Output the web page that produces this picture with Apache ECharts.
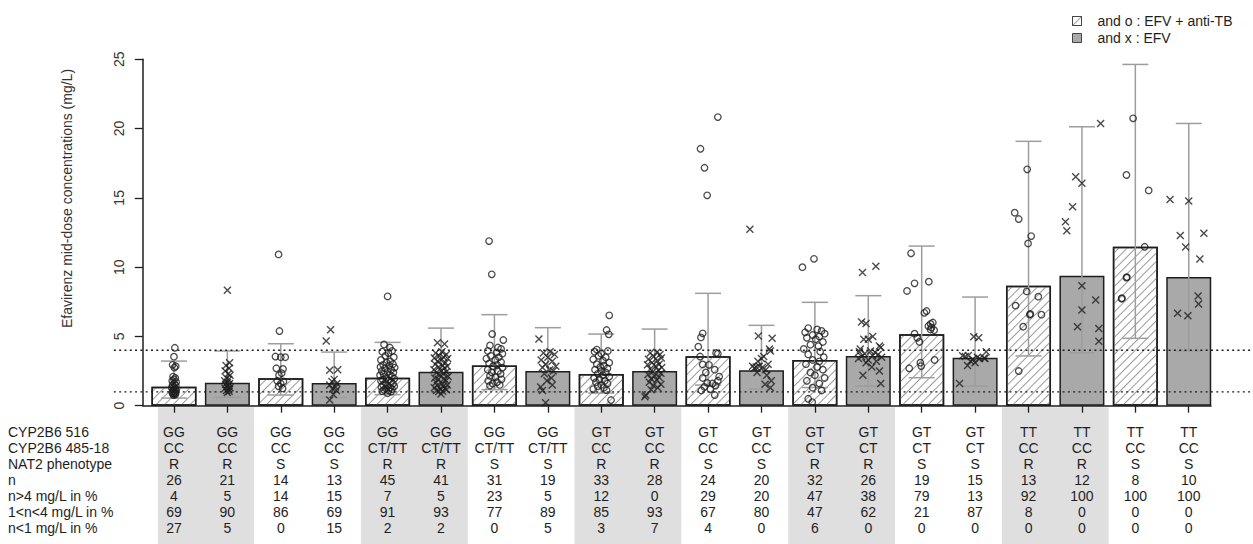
<!DOCTYPE html>
<html>
<head>
<meta charset="utf-8">
<script src="https://cdn.jsdelivr.net/npm/echarts@6/dist/echarts.min.js"></script>
<style>
  html, body { margin: 0; padding: 0; background: #fff; }
  #chart { width: 1253px; height: 544px; }
</style>
</head>
<body>
<div id="chart"></div>
<script>
// ---- table rows under each bar ----
const snp516   = ['GG','GG','GG','GG','GG','GG','GG','GG','GT','GT','GT','GT','GT','GT','GT','GT','TT','TT','TT','TT'];
const snp485   = ['CC','CC','CC','CC','CT/TT','CT/TT','CT/TT','CT/TT','CC','CC','CC','CC','CT','CT','CT','CT','CC','CC','CC','CC'];
const nat2     = ['R','R','S','S','R','R','S','S','R','R','S','S','R','R','S','S','R','R','S','S'];
const nCount   = [26,21,14,13,45,41,31,19,33,28,24,20,32,26,19,15,13,12,8,10];
const pctAbove4 = [4,5,14,15,7,5,23,5,12,0,29,20,47,38,79,13,92,100,100,100];
const pctMid    = [69,90,86,69,91,93,77,89,85,93,67,80,47,62,21,87,8,0,0,0];
const pctBelow1 = [27,5,0,15,2,2,0,5,3,7,4,0,6,0,0,0,0,0,0,0];
const rowNames = ['CYP2B6 516','CYP2B6 485-18','NAT2 phenotype','n','n>4 mg/L in %','1<n<4 mg/L in %','n<1 mg/L in %'];

// ---- bar heights and whiskers (mg/L) ----
const barHeights = [1.37,1.66,1.98,1.64,2.02,2.45,2.91,2.50,2.29,2.50,3.56,2.55,3.30,3.59,5.15,3.46,8.66,9.38,11.47,9.29];
const errUpper   = [3.22,3.95,4.47,3.87,4.57,5.60,6.57,5.63,5.17,5.53,8.11,5.80,7.46,7.94,11.52,7.84,19.08,20.13,24.63,20.37];
const errLower   = [0.55,0.60,0.77,0.60,0.80,0.96,1.16,1.00,0.91,1.02,1.49,1.20,1.31,1.42,2.02,1.42,3.59,3.82,4.86,3.95];

// reference levels (mg/L)
const thresholds = [1, 4];

// first bar of each shaded table pair
const shadedPairs = [0, 4, 8, 12, 16];

// ---- individual concentrations: [jitter (bar widths), mg/L] ----
const pts01 = [[0.02,4.18],[0,3.54],[-0.03,2.95],[0.04,2.85],[0.01,2.75],[-0.02,2.1],[0.03,2.0],[0,1.9],[-0.04,1.8],[0.05,1.7],[0.01,1.6],[-0.03,1.5],[0.04,1.45],[0,1.35],[-0.05,1.3],[0.03,1.2],[-0.01,1.15],[0.05,1.1],[-0.03,1.05],[0.02,0.98],[-0.04,0.95],[0.04,0.92],[0,0.88],[-0.02,0.85],[0.03,0.8],[-0.01,0.76]];
const pts02 = [[0,8.33],[0.05,3.1],[-0.03,2.9],[0.04,2.7],[-0.05,2.5],[0.02,2.3],[0.06,2.2],[-0.02,2.0],[0.03,1.9],[-0.06,1.8],[0,1.7],[0.05,1.6],[-0.04,1.55],[0.02,1.5],[-0.01,1.4],[0.06,1.3],[-0.05,1.25],[0.03,1.2],[-0.02,1.1],[0.04,1.05],[0,0.95]];
const pts03 = [[-0.05,10.92],[-0.03,5.39],[-0.12,3.55],[0,3.5],[0.1,3.5],[-0.1,2.7],[0.05,2.65],[0.02,2.35],[-0.04,2.2],[-0.08,1.8],[0.06,1.75],[0,1.6],[-0.05,1.4],[0.04,1.25]];
const pts04 = [[-0.18,4.67],[-0.08,5.48],[-0.1,2.55],[0.08,2.6],[0,1.9],[-0.05,1.75],[0.06,1.6],[-0.1,1.5],[0.03,1.35],[-0.04,1.2],[0.05,1.1],[-0.02,0.8],[-0.1,0.41]];
const pts05 = [[0,7.89],[-0.08,4.42],[0.05,4.2],[0.1,3.95],[-0.12,3.9],[0.02,3.8],[-0.05,3.6],[0.14,3.5],[-0.15,3.3],[0.06,3.2],[-0.02,3.1],[0.12,3.0],[-0.1,2.95],[0.04,2.9],[-0.16,2.8],[0.16,2.75],[-0.06,2.7],[0.08,2.6],[-0.13,2.5],[0,2.45],[0.13,2.4],[-0.09,2.3],[0.05,2.25],[-0.17,2.2],[0.1,2.1],[-0.03,2.0],[0.15,1.95],[-0.11,1.9],[0.03,1.85],[-0.15,1.8],[0.08,1.7],[-0.05,1.65],[0.12,1.6],[-0.1,1.5],[0,1.45],[0.15,1.4],[-0.14,1.35],[0.06,1.3],[-0.04,1.25],[0.1,1.2],[-0.08,1.15],[0.02,1.1],[-0.12,1.05],[0.08,1.02],[0,0.9]];
const pts06 = [[-0.08,4.55],[0.08,4.45],[0.02,3.9],[-0.12,3.8],[0.12,3.7],[-0.04,3.6],[0.06,3.5],[-0.15,3.45],[0.15,3.4],[0,3.3],[-0.08,3.2],[0.1,3.1],[-0.13,3.0],[0.04,2.9],[0.14,2.85],[-0.05,2.8],[0.08,2.7],[-0.16,2.6],[0,2.5],[0.12,2.45],[-0.1,2.4],[0.05,2.3],[-0.03,2.2],[0.16,2.1],[-0.14,2.0],[0.07,1.95],[-0.06,1.9],[0.11,1.8],[-0.11,1.7],[0.02,1.6],[0.14,1.5],[-0.08,1.45],[0.05,1.4],[-0.15,1.3],[0.09,1.25],[-0.02,1.2],[0.12,1.15],[-0.1,1.1],[0.04,1.05],[-0.05,1.02],[0,0.85]];
const pts07 = [[-0.12,11.88],[-0.06,9.48],[-0.05,5.17],[0.2,4.74],[-0.1,4.35],[0.08,4.2],[0.15,4.1],[-0.15,3.95],[0.05,3.85],[0.18,3.75],[-0.08,3.6],[0.1,3.5],[-0.18,3.4],[0.02,3.3],[0.15,3.15],[-0.12,3.05],[0.06,2.95],[-0.03,2.85],[0.18,2.75],[-0.15,2.6],[0.08,2.5],[-0.06,2.4],[0.14,2.3],[-0.1,2.15],[0.02,2.05],[0.16,1.9],[-0.14,1.8],[0.06,1.7],[-0.04,1.6],[0.12,1.5],[-0.1,1.45]];
const pts08 = [[-0.2,4.81],[0.05,3.9],[-0.1,3.8],[0.15,3.7],[0,3.5],[-0.15,3.3],[0.1,3.2],[-0.05,3.0],[0.18,2.85],[-0.12,2.75],[0.04,2.6],[0.12,2.5],[-0.08,2.3],[0.08,2.0],[-0.02,1.8],[0.1,1.5],[-0.16,1.35],[-0.12,1.1],[-0.05,0.22]];
const pts09 = [[0.18,6.52],[0.12,5.46],[0.17,5.15],[-0.1,4.05],[0.15,3.95],[-0.15,3.9],[0,3.75],[-0.06,3.6],[0.1,3.5],[-0.18,3.35],[0.04,3.25],[0.18,3.1],[-0.1,3.0],[0.06,2.9],[-0.02,2.8],[0.14,2.7],[-0.14,2.6],[0,2.5],[0.1,2.4],[-0.08,2.3],[0.04,2.2],[0.18,2.1],[-0.16,2.0],[-0.04,1.9],[0.08,1.8],[-0.12,1.7],[0.14,1.6],[0,1.5],[-0.08,1.4],[0.06,1.3],[-0.18,1.2],[0.12,1.12],[0.22,0.41]];
const pts10 = [[0.05,3.85],[-0.1,3.8],[0.12,3.7],[-0.02,3.55],[0.15,3.45],[-0.14,3.35],[0.06,3.25],[-0.06,3.1],[0.1,3.0],[-0.16,2.95],[0.02,2.85],[0.16,2.75],[-0.1,2.65],[0.08,2.55],[-0.04,2.45],[0.14,2.35],[-0.15,2.25],[0,2.15],[0.1,2.05],[-0.08,1.95],[0.05,1.85],[-0.12,1.7],[0.14,1.55],[-0.03,1.45],[0.07,1.3],[-0.08,1.15],[-0.2,0.77],[-0.22,0.65]];
const pts11 = [[0.22,20.83],[-0.17,18.54],[-0.08,17.17],[-0.02,15.18],[-0.12,5.22],[-0.16,4.93],[-0.22,4.26],[-0.18,3.55],[0.18,3.8],[0.22,3.75],[-0.12,2.98],[0.02,2.95],[0.15,2.6],[-0.05,2.4],[0.25,2.1],[-0.12,2.0],[0.22,1.8],[-0.02,1.65],[0.1,1.6],[0.17,1.45],[-0.08,1.35],[0.05,1.2],[-0.15,1.1],[0.15,0.77]];
const pts12 = [[-0.26,12.73],[-0.07,5.03],[0.24,4.86],[0.18,4.1],[0.2,3.95],[0.05,3.55],[-0.2,2.85],[-0.12,2.8],[-0.05,2.85],[0.02,2.75],[-0.16,2.7],[0.1,2.6],[-0.08,3.2],[0.15,3.0],[0.12,2.2],[0.22,1.8],[0.08,1.55],[0.2,1.3],[-0.1,2.4],[0,3.4]];
const pts13 = [[-0.02,10.6],[-0.28,10.0],[-0.15,5.6],[0.05,5.5],[0.15,5.4],[-0.22,5.3],[0.22,5.2],[-0.05,5.1],[0.1,5.0],[-0.18,4.9],[0.02,4.8],[0.18,4.6],[-0.1,4.4],[0.08,4.3],[-0.25,4.1],[0.12,3.9],[-0.15,3.7],[0.2,3.5],[-0.05,3.3],[0.1,3.2],[-0.2,3.0],[0.05,2.8],[0.18,2.6],[-0.1,2.4],[0,2.2],[0.22,2.0],[-0.18,1.8],[0.1,1.6],[-0.05,1.3],[0.15,1.1],[-0.15,0.5],[-0.06,0.25]];
const pts14 = [[0.17,10.06],[-0.13,9.62],[-0.15,6.04],[-0.05,5.94],[0.1,5.0],[-0.1,4.79],[0,4.8],[0.25,4.3],[-0.18,4.1],[0.28,4.2],[-0.2,3.9],[0.05,3.95],[0.15,3.85],[-0.08,3.75],[0.22,3.7],[0.1,3.6],[-0.15,3.55],[0.3,3.5],[-0.22,3.4],[0,3.3],[0.18,3.2],[-0.05,3.1],[0.08,2.8],[0.25,2.5],[-0.12,2.2],[0.28,1.6]];
const pts15 = [[-0.24,11.0],[0.16,8.95],[-0.16,8.83],[-0.33,8.28],[0.11,6.83],[0.06,6.7],[0.2,5.9],[0.25,6.0],[0.15,5.75],[0.2,5.5],[0.28,5.45],[-0.16,5.2],[-0.1,4.9],[-0.05,4.6],[0.22,5.65],[0.29,3.3],[-0.03,3.1],[-0.01,2.86],[-0.28,2.7]];
const pts16 = [[-0.03,4.98],[0.08,4.9],[-0.28,3.6],[-0.22,3.55],[-0.15,3.62],[-0.1,3.2],[-0.17,2.9],[0.1,3.4],[0.2,3.45],[0.25,3.9],[0.22,3.4],[0.05,3.5],[-0.05,3.35],[0,3.1],[-0.35,1.6]];
const pts17 = [[-0.03,17.06],[-0.31,13.93],[-0.22,13.47],[0.06,12.24],[-0.01,11.71],[-0.04,8.25],[0.22,7.87],[-0.29,7.22],[0.03,6.57],[0.29,6.57],[-0.12,5.7],[0.04,6.62],[-0.22,2.5]];
const pts18 = [[0.42,20.37],[-0.14,16.52],[0,16.05],[-0.21,14.36],[-0.37,13.28],[-0.34,12.63],[0,8.66],[0.31,7.63],[0,6.9],[-0.1,5.7],[0.38,5.58],[0.38,4.65]];
const pts19 = [[-0.05,20.74],[-0.2,16.65],[0.3,15.54],[0.21,11.47],[-0.2,9.24],[-0.31,7.72],[-0.19,9.28],[-0.3,7.76]];
const pts20 = [[-0.42,14.89],[0,14.77],[-0.19,12.29],[0.34,12.44],[-0.07,11.45],[0.25,10.58],[0.21,7.91],[0.22,7.34],[-0.25,6.67],[-0.02,6.49]];
const groupPoints = [pts01,pts02,pts03,pts04,pts05,pts06,pts07,pts08,pts09,pts10,pts11,pts12,pts13,pts14,pts15,pts16,pts17,pts18,pts19,pts20];

const nameTB  = 'and o : EFV + anti-TB';
const nameEFV = 'and x : EFV';

// ---- layout helpers ----
const FONT = "'Liberation Sans', Arial, Helvetica, sans-serif";
const INK = '#1e1e1e';
// bars of width 1 separated by 0.2, as in a classic barplot
const centers = snp516.map((_, i) => 0.7 + 1.2 * i);
const indexOf = v => Math.round((v - 0.7) / 1.2);

const tbBars = [], efvBars = [], errData = [], circles = [], crosses = [];
centers.forEach((c, i) => {
  (i % 2 === 0 ? tbBars : efvBars).push([c, barHeights[i]]);
  errData.push([c, errLower[i], errUpper[i]]);
  groupPoints[i].forEach(([dx, v]) => (i % 2 === 0 ? circles : crosses).push([c + dx, v]));
});

const shadeData = shadedPairs.map(i => [Math.max(centers[i] - 0.6, 0.34), centers[i + 1] + 0.6]);

const chart = echarts.init(document.getElementById('chart'), null, { renderer: 'svg' });

chart.setOption({
  animation: false,
  backgroundColor: '#fff',
  textStyle: { fontFamily: FONT },
  grid: { left: 142.8, right: 42, top: 59.3, bottom: 138.3, containLabel: false },
  legend: {
    data: [nameTB, nameEFV],
    orient: 'vertical',
    left: 1072, top: 14,
    padding: 0,
    itemWidth: 9, itemHeight: 9, itemGap: 3,
    icon: 'rect',
    selectedMode: false,
    itemStyle: { borderColor: '#444', borderWidth: 1 },
    textStyle: { fontSize: 14, color: INK, fontFamily: FONT, lineHeight: 14, padding: [0, 0, 0, 11] }
  },
  xAxis: {
    type: 'value', min: 0, max: 24,
    axisLine: { show: true, onZero: false, lineStyle: { color: INK, width: 1.5 } },
    axisTick: { show: true, customValues: centers, length: 7, lineStyle: { color: INK, width: 1.3 } },
    axisLabel: {
      customValues: centers,
      margin: 18,
      fontSize: 14, lineHeight: 16, color: INK, fontFamily: FONT,
      formatter: v => {
        const i = indexOf(v);
        return [snp516[i], snp485[i], nat2[i], nCount[i], pctAbove4[i], pctMid[i], pctBelow1[i]].join('\n');
      }
    },
    splitLine: { show: false }
  },
  yAxis: {
    type: 'value', min: 0, max: 25, interval: 5,
    axisLine: { show: true, lineStyle: { color: INK, width: 1.5 } },
    axisTick: { show: true, length: 8, lineStyle: { color: INK, width: 1.3 } },
    axisLabel: { rotate: 90, margin: 17, fontSize: 14, color: '#333', fontFamily: FONT },
    splitLine: { show: false }
  },
  graphic: [
    {
      type: 'text', x: 67, y: 198.5, rotation: Math.PI / 2,
      style: {
        text: 'Efavirenz mid-dose concentrations (mg/L)',
        font: '14px ' + FONT, fill: '#333',
        align: 'center', verticalAlign: 'middle',
        textAlign: 'center', textVerticalAlign: 'middle'
      }
    },
    ...rowNames.map((t, k) => ({
      type: 'text', x: 8, y: 432 + 16 * k,
      style: {
        text: t, font: '14px ' + FONT, fill: INK,
        align: 'left', verticalAlign: 'middle',
        textAlign: 'left', textVerticalAlign: 'middle'
      }
    }))
  ],
  series: [
    {
      // grey bands behind alternate pairs of table columns
      type: 'custom', z: -1, silent: true, clip: false,
      data: shadeData,
      encode: { x: [0, 1] },
      renderItem: (params, api) => {
        const a = api.coord([api.value(0), 0]);
        const b = api.coord([api.value(1), 0]);
        return {
          type: 'rect',
          shape: { x: a[0], y: a[1] + 1.5, width: b[0] - a[0], height: api.getHeight() - a[1] },
          style: { fill: '#dfdfdf' }
        };
      }
    },
    {
      name: nameTB, type: 'bar', data: tbBars, barWidth: 45, barGap: '-100%',
      itemStyle: {
        color: '#ffffff', borderColor: INK, borderWidth: 1.5,
        decal: { symbol: 'rect', symbolSize: 1, dashArrayX: [1, 0], dashArrayY: [1, 5], rotation: -Math.PI / 4, color: '#9a9a9a' }
      },
      emphasis: { disabled: true }
    },
    {
      name: nameEFV, type: 'bar', data: efvBars, barWidth: 45, barGap: '-100%',
      itemStyle: { color: '#a9a9a9', borderColor: INK, borderWidth: 1.5 },
      emphasis: { disabled: true }
    },
    {
      // whiskers
      type: 'custom', z: 3, silent: true,
      data: errData,
      encode: { x: 0, y: [1, 2] },
      renderItem: (params, api) => {
        const x = api.value(0);
        const lo = api.coord([x, api.value(1)]);
        const hi = api.coord([x, api.value(2)]);
        const half = 13;
        const style = { stroke: '#9d9d9d', lineWidth: 1.5 };
        return {
          type: 'group',
          children: [
            { type: 'line', shape: { x1: lo[0], y1: lo[1], x2: hi[0], y2: hi[1] }, style },
            { type: 'line', shape: { x1: hi[0] - half, y1: hi[1], x2: hi[0] + half, y2: hi[1] }, style },
            { type: 'line', shape: { x1: lo[0] - half, y1: lo[1], x2: lo[0] + half, y2: lo[1] }, style }
          ]
        };
      }
    },
    {
      type: 'scatter', z: 4, silent: true, data: circles,
      symbol: 'circle', symbolSize: 6.5,
      itemStyle: { color: 'rgba(255,255,255,0)', borderColor: INK, borderWidth: 1.3 }
    },
    {
      type: 'scatter', z: 4, silent: true, data: crosses,
      symbol: 'path://M0,0L10,10M10,0L0,10', symbolSize: 7,
      itemStyle: { color: 'rgba(255,255,255,0)', borderColor: INK, borderWidth: 1.4 }
    },
    {
      // dotted reference levels across the plot
      type: 'custom', z: 5, silent: true, clip: false,
      data: thresholds.map(v => [0, v]),
      encode: { x: 0, y: 1 },
      renderItem: (params, api) => {
        const v = api.value(1);
        const a = api.coord([-0.65, v]);
        const b = api.coord([24.95, v]);
        return {
          type: 'line',
          shape: { x1: a[0], y1: a[1], x2: b[0], y2: b[1] },
          style: { stroke: INK, lineWidth: 1.4, lineDash: [2, 3.3] }
        };
      }
    }
  ]
});
</script>
</body>
</html>
